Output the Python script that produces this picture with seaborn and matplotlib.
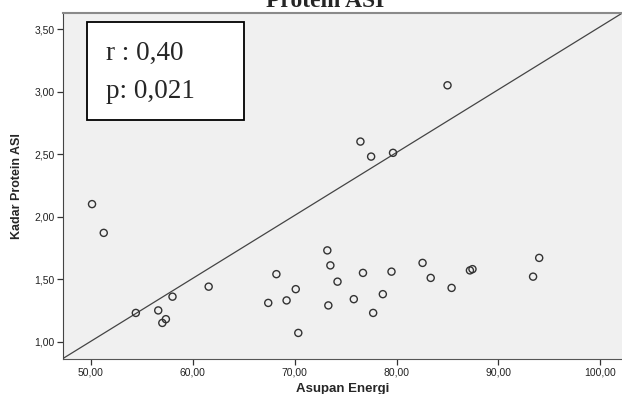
import pandas as pd
import numpy as np
import matplotlib
matplotlib.use("Agg")
import matplotlib.pyplot as plt
import seaborn as sns
from matplotlib.patches import Rectangle

# data
asupan_energi = [50.1, 51.25, 54.4, 56.6, 57.0, 57.35, 58.0, 61.55, 67.4, 68.2, 69.2,
                 70.1, 70.35, 73.2, 73.5, 73.3, 74.2, 75.8, 76.7, 76.45, 77.5, 77.7,
                 78.65, 79.5, 79.65, 82.55, 83.35, 85.0, 85.4, 87.2, 87.45, 93.4, 94.0]
kadar_protein = [2.10, 1.87, 1.23, 1.25, 1.15, 1.18, 1.36, 1.44, 1.31, 1.54, 1.33,
                 1.42, 1.07, 1.73, 1.61, 1.29, 1.48, 1.34, 1.55, 2.60, 2.48, 1.23,
                 1.38, 1.56, 2.51, 1.63, 1.51, 3.05, 1.43, 1.57, 1.58, 1.52, 1.67]

line_intercept = -1.511
line_slope = 0.0503

x_ticks = [50, 60, 70, 80, 90, 100]
y_ticks = [1.0, 1.5, 2.0, 2.5, 3.0, 3.5]

df = pd.DataFrame({"Asupan Energi": asupan_energi, "Kadar Protein ASI": kadar_protein})

sns.set_style("white")
plt.rcParams["font.family"] = ["Liberation Sans", "DejaVu Sans"]

fig = plt.figure(figsize=(6.22, 3.94), dpi=100)
ax = fig.add_axes([0.1008, 0.0896, 0.8992, 0.8774])
ax.set_facecolor("#f0f0f0")

ax.axline((0, line_intercept), slope=line_slope, color="#444444", lw=0.9, zorder=1)

sns.scatterplot(data=df, x="Asupan Energi", y="Kadar Protein ASI", ax=ax,
                marker="o", s=26, facecolor="none", edgecolor="#333333",
                linewidth=1.0, zorder=3)

ax.set_xlim(47.22, 102.13)
ax.set_ylim(0.864, 3.628)
ax.set_xticks(x_ticks)
ax.set_yticks(y_ticks)
ax.set_xticklabels([f"{v:.2f}".replace(".", ",") for v in x_ticks])
ax.set_yticklabels([f"{v:.2f}".replace(".", ",") for v in y_ticks])
ax.tick_params(axis="both", direction="out", length=4, width=0.9, color="#333333",
               labelsize=7.5, labelcolor="#222222", pad=2)
ax.tick_params(bottom=True, left=True)

ax.set_xlabel("Asupan Energi", fontsize=9.5, fontweight="bold", labelpad=4)
ax.set_ylabel("Kadar Protein ASI", fontsize=9, fontweight="bold", labelpad=8)

ax.spines["left"].set_color("#444444")
ax.spines["bottom"].set_color("#555555")
ax.spines["top"].set_color("#8a8a8a")
ax.spines["top"].set_linewidth(1.5)
ax.spines["right"].set_visible(False)

# annotation box
box = Rectangle((87 / 622, 1 - 120 / 394), (244 - 87) / 622, (120 - 22) / 394,
                transform=fig.transFigure, facecolor="white", edgecolor="black",
                lw=1.3, zorder=5)
fig.patches.append(box)
fig.text(106 / 622, 1 - 53 / 394, "r : 0,40", fontsize=19.5, va="center",
         family=["Liberation Serif", "DejaVu Serif"], zorder=6)
fig.text(106 / 622, 1 - 92 / 394, "p: 0,021", fontsize=19.5, va="center",
         family=["Liberation Serif", "DejaVu Serif"], zorder=6)

# title, cut off at the top edge as in the source
fig.text(325 / 622, 1 - 7 / 394, "Protein ASI", fontsize=17, fontweight="bold",
         ha="center", va="baseline", family=["Liberation Serif", "DejaVu Serif"])

fig.savefig("out.png", dpi=100)
